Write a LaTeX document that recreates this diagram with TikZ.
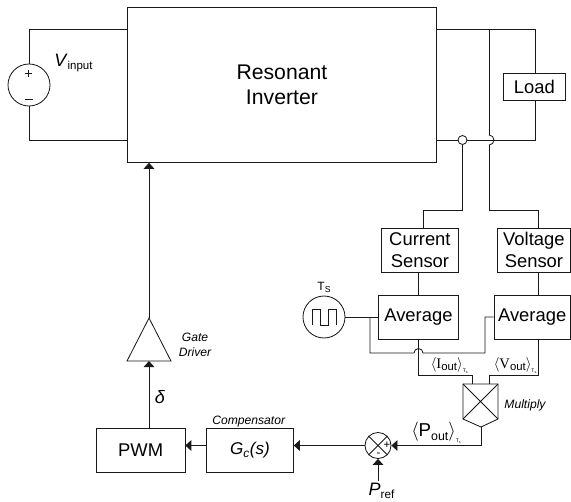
\documentclass[tikz,border=0pt]{standalone}
\usepackage{fontspec}
\setmainfont{Liberation Sans}
\newfontfamily\serfont{Liberation Serif}
\newfontfamily\sanfont{Liberation Sans}
\usetikzlibrary{arrows.meta,calc}
\tikzset{
 wire/.style={draw=black!90,line width=0.62pt},
 flow/.style={wire,-{Triangle[length=4.5pt,width=8pt]}},
 blockbox/.style={draw=black!90,line width=0.62pt,fill=white,inner sep=0pt,align=center,font=\fontsize{13.8}{16.5}\selectfont},
 ring/.style={draw=black!90,line width=0.62pt,circle,inner sep=0pt,fill=white},
 small/.style={inner sep=0pt,font=\itshape\fontsize{9.1}{11.2}\selectfont,align=center},
}
\newcommand{\boxat}[6]{\node[blockbox,minimum width=#4*0.75pt,minimum height=#5*0.75pt,anchor=north west] (#1) at (#2,#3) {#6};}
\newcommand{\tssub}[1]{\raisebox{#1}{\sanfont\fontsize{3.8}{4}\selectfont T\textsubscript{s}}}
\begin{document}
\begin{tikzpicture}[x=0.75pt,y=-0.75pt]
\useasboundingbox (0,0) rectangle (571,501);
\fill[white] (0,0) rectangle (571,501);
% blocks
\node[blockbox,minimum width=309*0.75pt,minimum height=155*0.75pt,anchor=north west,font=\fontsize{15.9}{19}\selectfont] (inv) at (127,7) {Resonant\\Inverter};
\boxat{load}{503}{73}{62}{27}{Load}
\boxat{cs}{381}{228}{77}{44}{Current\\Sensor}
\boxat{vs}{497}{228}{73}{44}{Voltage\\Sensor}
\boxat{av1}{378}{295}{80}{44}{Average}
\boxat{av2}{493.5}{295}{76.5}{44}{Average}
\boxat{pwm}{96}{428}{88.5}{44}{PWM}
\boxat{gc}{206}{428}{87}{44}{\fontsize{12.8}{15}\selectfont\textit{G\textsubscript{c}(s)}}
% source
\node[ring,minimum size=42pt*0.75] (src) at (29,85) {};
\coordinate (srcT) at (29,29); \coordinate (srcB) at (29,140);
\draw[wire] (src.north) -- (srcT) -- (srcT -| inv.west);
\draw[wire] (src.south) -- (srcB) -- (srcB -| inv.west);
\draw[wire] (25,73) -- (32,73) (28.5,69.5) -- (28.5,76.5);
\draw[wire] (25,99.3) -- (33,99.3);
\node[anchor=west,inner sep=0pt] (vin) at (54,63) {\fontsize{13.5}{16}\selectfont\textit{V}\raisebox{-2.5pt}{\fontsize{8.6}{10}\selectfont input}};
% output wiring
\coordinate (t1) at (436,29); \coordinate (t2) at (436,140);
\node[ring,minimum size=9pt*0.75,fill=none] (ic) at (462.5,140) {};
\draw[wire] (t1) -- (535,29) -- (load.north -| 535,0);
\draw[wire] (load.south -| 535,0) -- (535,140) -- (ic.east);
\draw[wire] (ic.west) -- (t2) -- (436,162);
\draw[wire] (489,29) -- (489,135);
\draw[wire] (489,135) arc (-90:90:5);
\draw[wire] (489,145) -- (489,210.5) -- (538,210.5) -- (538,228);
\draw[wire] (ic.south) -- (462.5,210.5) -- (423,210.5) -- (423,228);
\draw[wire] (cs.south -| 418.5,0) -- (av1.north -| 418.5,0);
\draw[wire] (vs.south -| 538,0) -- (av2.north -| 538,0);
% Ts clock
\node[ring,minimum size=42pt*0.75] (ts) at (324,317) {};
\draw[wire] (312,325) -- (312,309) -- (320,309) -- (320,325) -- (328,325) -- (328,309) -- (336,309) -- (336,325);
\node[inner sep=0pt] (tslbl) at (324,287) {\fontsize{9}{11}\selectfont T\raisebox{-1.5pt}{\fontsize{6.5}{8}\selectfont S}};
\draw[wire] (ts.east) -- (av1.west |- 0,317);
\draw[wire] (370,317) -- (370,353) -- (414,353) arc (180:360:4.5) -- (485,353) -- (485,317) -- (av2.west |- 0,317);
% averages to multiplier
\draw[wire] (av1.south -| 418.5,0) -- (418.5,375) -- (472,375) -- (472,384);
\draw[wire] (av2.south -| 538,0) -- (538,375) -- (489,375) -- (489,384);
\node[inner sep=0pt,anchor=west] (iout) at (430.5,365.5) {\fontsize{11}{12}\selectfont$\langle${\serfont I}\raisebox{-1.5pt}{\fontsize{8.5}{9}\selectfont out}$\rangle$\tssub{-3pt}};
\node[inner sep=0pt,anchor=west] (vout) at (493.5,365.5) {\fontsize{11}{12}\selectfont$\langle${\serfont V}\raisebox{-1.5pt}{\fontsize{8.5}{9}\selectfont out}$\rangle$\tssub{-3pt}};
% multiplier
\coordinate (mO) at (481,427);
\draw[wire,fill=white] (463,384) -- (498,384) -- (498,419) -- (mO) -- (463,419) -- cycle;
\draw[wire] (463,384) -- (498,419) (498,384) -- (463,419);
\node[small] (mult) at (525,405) {Multiply};
% sum
\node[ring,minimum size=26pt*0.75] (sum) at (378,445.5) {};
\draw[wire] (sum.north west) -- (sum.south east) (sum.north east) -- (sum.south west);
\node[inner sep=0pt,font=\fontsize{8.5}{9}\selectfont] (plus) at (387,445.5) {+};
\node[inner sep=0pt,font=\fontsize{8.5}{9}\selectfont] (minus) at (378.5,455) {-};
\draw[flow] (mO) -- (481,445.5) -- (sum.east);
\coordinate (pr) at (378,481);
\draw[flow] (pr) -- (sum.south);
\node[inner sep=0pt] (pref) at (381.5,491) {\fontsize{13.5}{16}\selectfont\textit{P}\raisebox{-2.5pt}{\fontsize{8.8}{10}\selectfont ref}};
\node[inner sep=0pt,anchor=west] (pout) at (411,433) {\fontsize{14}{16}\selectfont$\langle$P\raisebox{-2.5pt}{\fontsize{9.3}{10}\selectfont out}$\rangle$\tssub{-4pt}};
\draw[flow] (sum.west) -- (sum.west -| gc.east);
\draw[flow] (gc.west |- sum.west) -- (pwm.east |- sum.west);
\node[small] (comp) at (248.7,421.5) {Compensator};
% gate driver
\coordinate (gdT) at (149,318);
\draw[wire,fill=white] (127,361) -- (171,361) -- (gdT) -- cycle;
\coordinate (gdB) at (149,361);
\draw[flow] (pwm.north -| 149,0) -- (gdB);
\draw[flow] (gdT) -- (inv.south -| 149,0);
\node[small] (gate) at (195,344.5) {Gate\\Driver};
\node[inner sep=0pt] (delta) at (160,397) {\fontsize{13.5}{14}\selectfont\textit{δ}};
\end{tikzpicture}
\end{document}
